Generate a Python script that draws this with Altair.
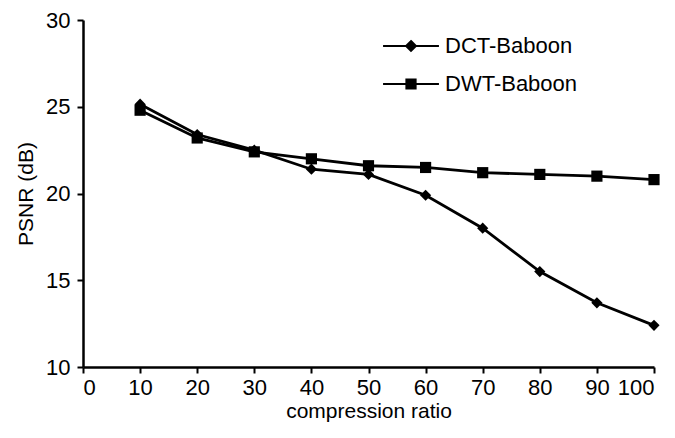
import altair as alt
import pandas as pd

ratios = [10, 20, 30, 40, 50, 60, 70, 80, 90, 100]
dct_psnr = [25.15, 23.4, 22.5, 21.4, 21.1, 19.9, 18.0, 15.5, 13.7, 12.4]
dwt_psnr = [24.8, 23.2, 22.4, 22.0, 21.6, 21.5, 21.2, 21.1, 21.0, 20.8]
series_names = ["DCT-Baboon", "DWT-Baboon"]
x_ticks = list(range(0, 101, 10))
y_ticks = [10, 15, 20, 25, 30]

rows = []
for r, v in zip(ratios, dct_psnr):
    rows.append({"ratio": r, "psnr": v, "series": series_names[0]})
for r, v in zip(ratios, dwt_psnr):
    rows.append({"ratio": r, "psnr": v, "series": series_names[1]})
df = pd.DataFrame(rows)

FONT = "Liberation Sans"

x_enc = alt.X("ratio:Q", title="compression ratio",
              scale=alt.Scale(domain=[0, 100], nice=False),
              axis=alt.Axis(values=x_ticks, format="d"))
y_enc = alt.Y("psnr:Q", title="PSNR (dB)",
              scale=alt.Scale(domain=[10, 30], nice=False, zero=False),
              axis=alt.Axis(values=y_ticks, format="d", labelPadding=7))

base = alt.Chart(df)

lines = base.mark_line(color="black", strokeWidth=2.8).encode(
    x=x_enc, y=y_enc, detail="series:N"
)

points = base.mark_point(filled=True, color="black", opacity=1, size=125).encode(
    x=x_enc, y=y_enc,
    shape=alt.Shape("series:N",
                    scale=alt.Scale(domain=series_names, range=["diamond", "square"]),
                    legend=None),
)


def diamond(r):
    return f"M0,{-r}L{r},0L0,{r}L{-r},0Z"


def square(r):
    return f"M{-r},{-r}L{r},{-r}L{r},{r}L{-r},{r}Z"


# legend symbols: a short line with a (stroke-filled) marker in its centre
legend_paths = [
    "M-2.54,0L2.54,0" + "".join(diamond(r) for r in (0.45, 0.33, 0.21, 0.09)),
    "M-2.54,0L2.54,0" + "".join(square(r) for r in (0.42, 0.30, 0.18, 0.06)),
]

legend_layer = base.mark_point(filled=False, color="black",
                               strokeWidth=2, opacity=1).encode(
    x=x_enc, y=y_enc,
    shape=alt.Shape("series:N",
                    scale=alt.Scale(domain=series_names, range=legend_paths),
                    legend=alt.Legend(
                        title=None, orient="none", legendX=316, legendY=14,
                        symbolSize=484, symbolStrokeWidth=2,
                        symbolStrokeColor="black",
                        symbolOpacity=1,
                        labelFont=FONT, labelFontSize=22, labelColor="black",
                        rowPadding=15, labelOffset=22, padding=0,
                    )),
).transform_filter("datum.ratio < 0")

chart = alt.layer(lines, points, legend_layer).resolve_scale(shape="independent").properties(
    width=571, height=347,
    autosize=alt.AutoSizeParams(type="none"),
    padding={"left": 75, "top": 12, "right": 13, "bottom": 55},
).configure_view(stroke=None).configure_axis(
    grid=False, domainColor="black", domainWidth=2.5, tickColor="black",
    tickWidth=2, tickSize=6, labelFont=FONT, labelFontSize=22, labelColor="black",
    titleFont=FONT, titleFontSize=21, titleFontWeight="normal", titleColor="black",
    labelPadding=4,
).configure_axisX(titlePadding=2).configure_axisY(titlePadding=9)

chart.save("out.html", embed_options={"renderer": "svg", "actions": False})
